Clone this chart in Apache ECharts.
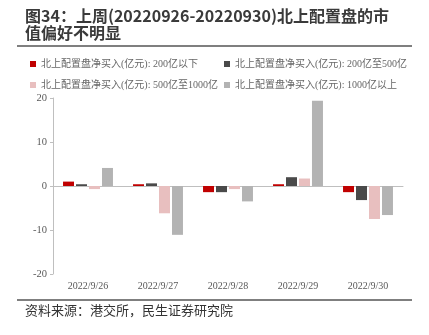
<!DOCTYPE html>
<html><head><meta charset="utf-8">
<script src="https://cdn.jsdelivr.net/npm/echarts@6/dist/echarts.min.js"></script>
<style>html,body{margin:0;padding:0;background:#fff}#c{width:429px;height:335px}</style>
</head><body><div id="c"></div>
<script>
var categories = ['2022/9/26','2022/9/27','2022/9/28','2022/9/29','2022/9/30'];
var seriesNames = ['北上配置盘净买入(亿元): 200亿以下','北上配置盘净买入(亿元): 200亿至500亿','北上配置盘净买入(亿元): 500亿至1000亿','北上配置盘净买入(亿元): 1000亿以上'];
var below200 = [1.0, 0.4, -1.4, 0.4, -1.4];
var from200to500 = [0.4, 0.6, -1.4, 2.0, -3.2];
var from500to1000 = [-0.7, -6.2, -0.7, 1.7, -7.5];
var above1000 = [4.1, -11.1, -3.5, 19.4, -6.6];
var colors = ['#C00000','#4A4A4A','#E8BFBF','#B3B3B3'];
var allData = [below200, from200to500, from500to1000, above1000];

var serif = '"Liberation Serif","Noto Sans CJK SC",serif';
var chart = echarts.init(document.getElementById('c'));
var legendPos = [[25,54],[219,54],[25,75],[219,75]];
chart.setOption({
  animation:false,
  color: colors,
  title: {
    text: '图34：上周(20220926-20220930)北上配置盘的市\n值偏好不明显',
    left: 20, top: 2,
    textStyle: {fontFamily:'"Noto Sans CJK SC",sans-serif', fontSize:16, fontWeight:'bold', color:'#3a3a3a', lineHeight:17.5}
  },
  legend: seriesNames.map(function(n,i){return {
    data:[n], left:legendPos[i][0], top:legendPos[i][1], itemWidth:6, itemHeight:6, itemGap:4,
    icon:'rect', textStyle:{fontFamily:serif, fontSize:10, color:'#666'}
  };}),
  grid: {left:53, right:26, top:98, bottom:61},
  xAxis: [{
    type:'category', data:categories,
    axisLine:{onZero:true, lineStyle:{color:'#BFBFBF'}},
    axisTick:{inside:true, length:5, lineStyle:{color:'#999'}},
    axisLabel:{show:false}
  },{
    type:'category', data:categories, position:'bottom',
    axisLine:{show:false, onZero:false}, axisTick:{show:false},
    axisLabel:{fontFamily:serif, fontSize:10, color:'#595959', margin:7}
  }],
  yAxis: {
    type:'value', min:-20, max:20, interval:10,
    splitLine:{show:false},
    axisLine:{show:true, lineStyle:{color:'#BFBFBF'}},
    axisTick:{show:true, length:3, lineStyle:{color:'#BFBFBF'}},
    axisLabel:{fontFamily:serif, fontSize:10.5, color:'#595959', margin:6}
  },
  series: allData.map(function(d,i){return {
    name:seriesNames[i], type:'bar', data:d, barWidth:11, barGap:'18%', xAxisIndex:0,
    itemStyle:{color:colors[i]}
  };}),
  graphic: [
    {type:'line', shape:{x1:17,y1:46,x2:412,y2:46}, style:{stroke:'#555', lineWidth:1.5}},
    {type:'line', shape:{x1:17,y1:300,x2:412,y2:300}, style:{stroke:'#555', lineWidth:1.5}},
    {type:'text', left:25, top:304, style:{text:'资料来源：港交所，民生证券研究院', font:'13px "Noto Sans CJK SC",sans-serif', fill:'#333'}}
  ]
});
</script></body></html>
